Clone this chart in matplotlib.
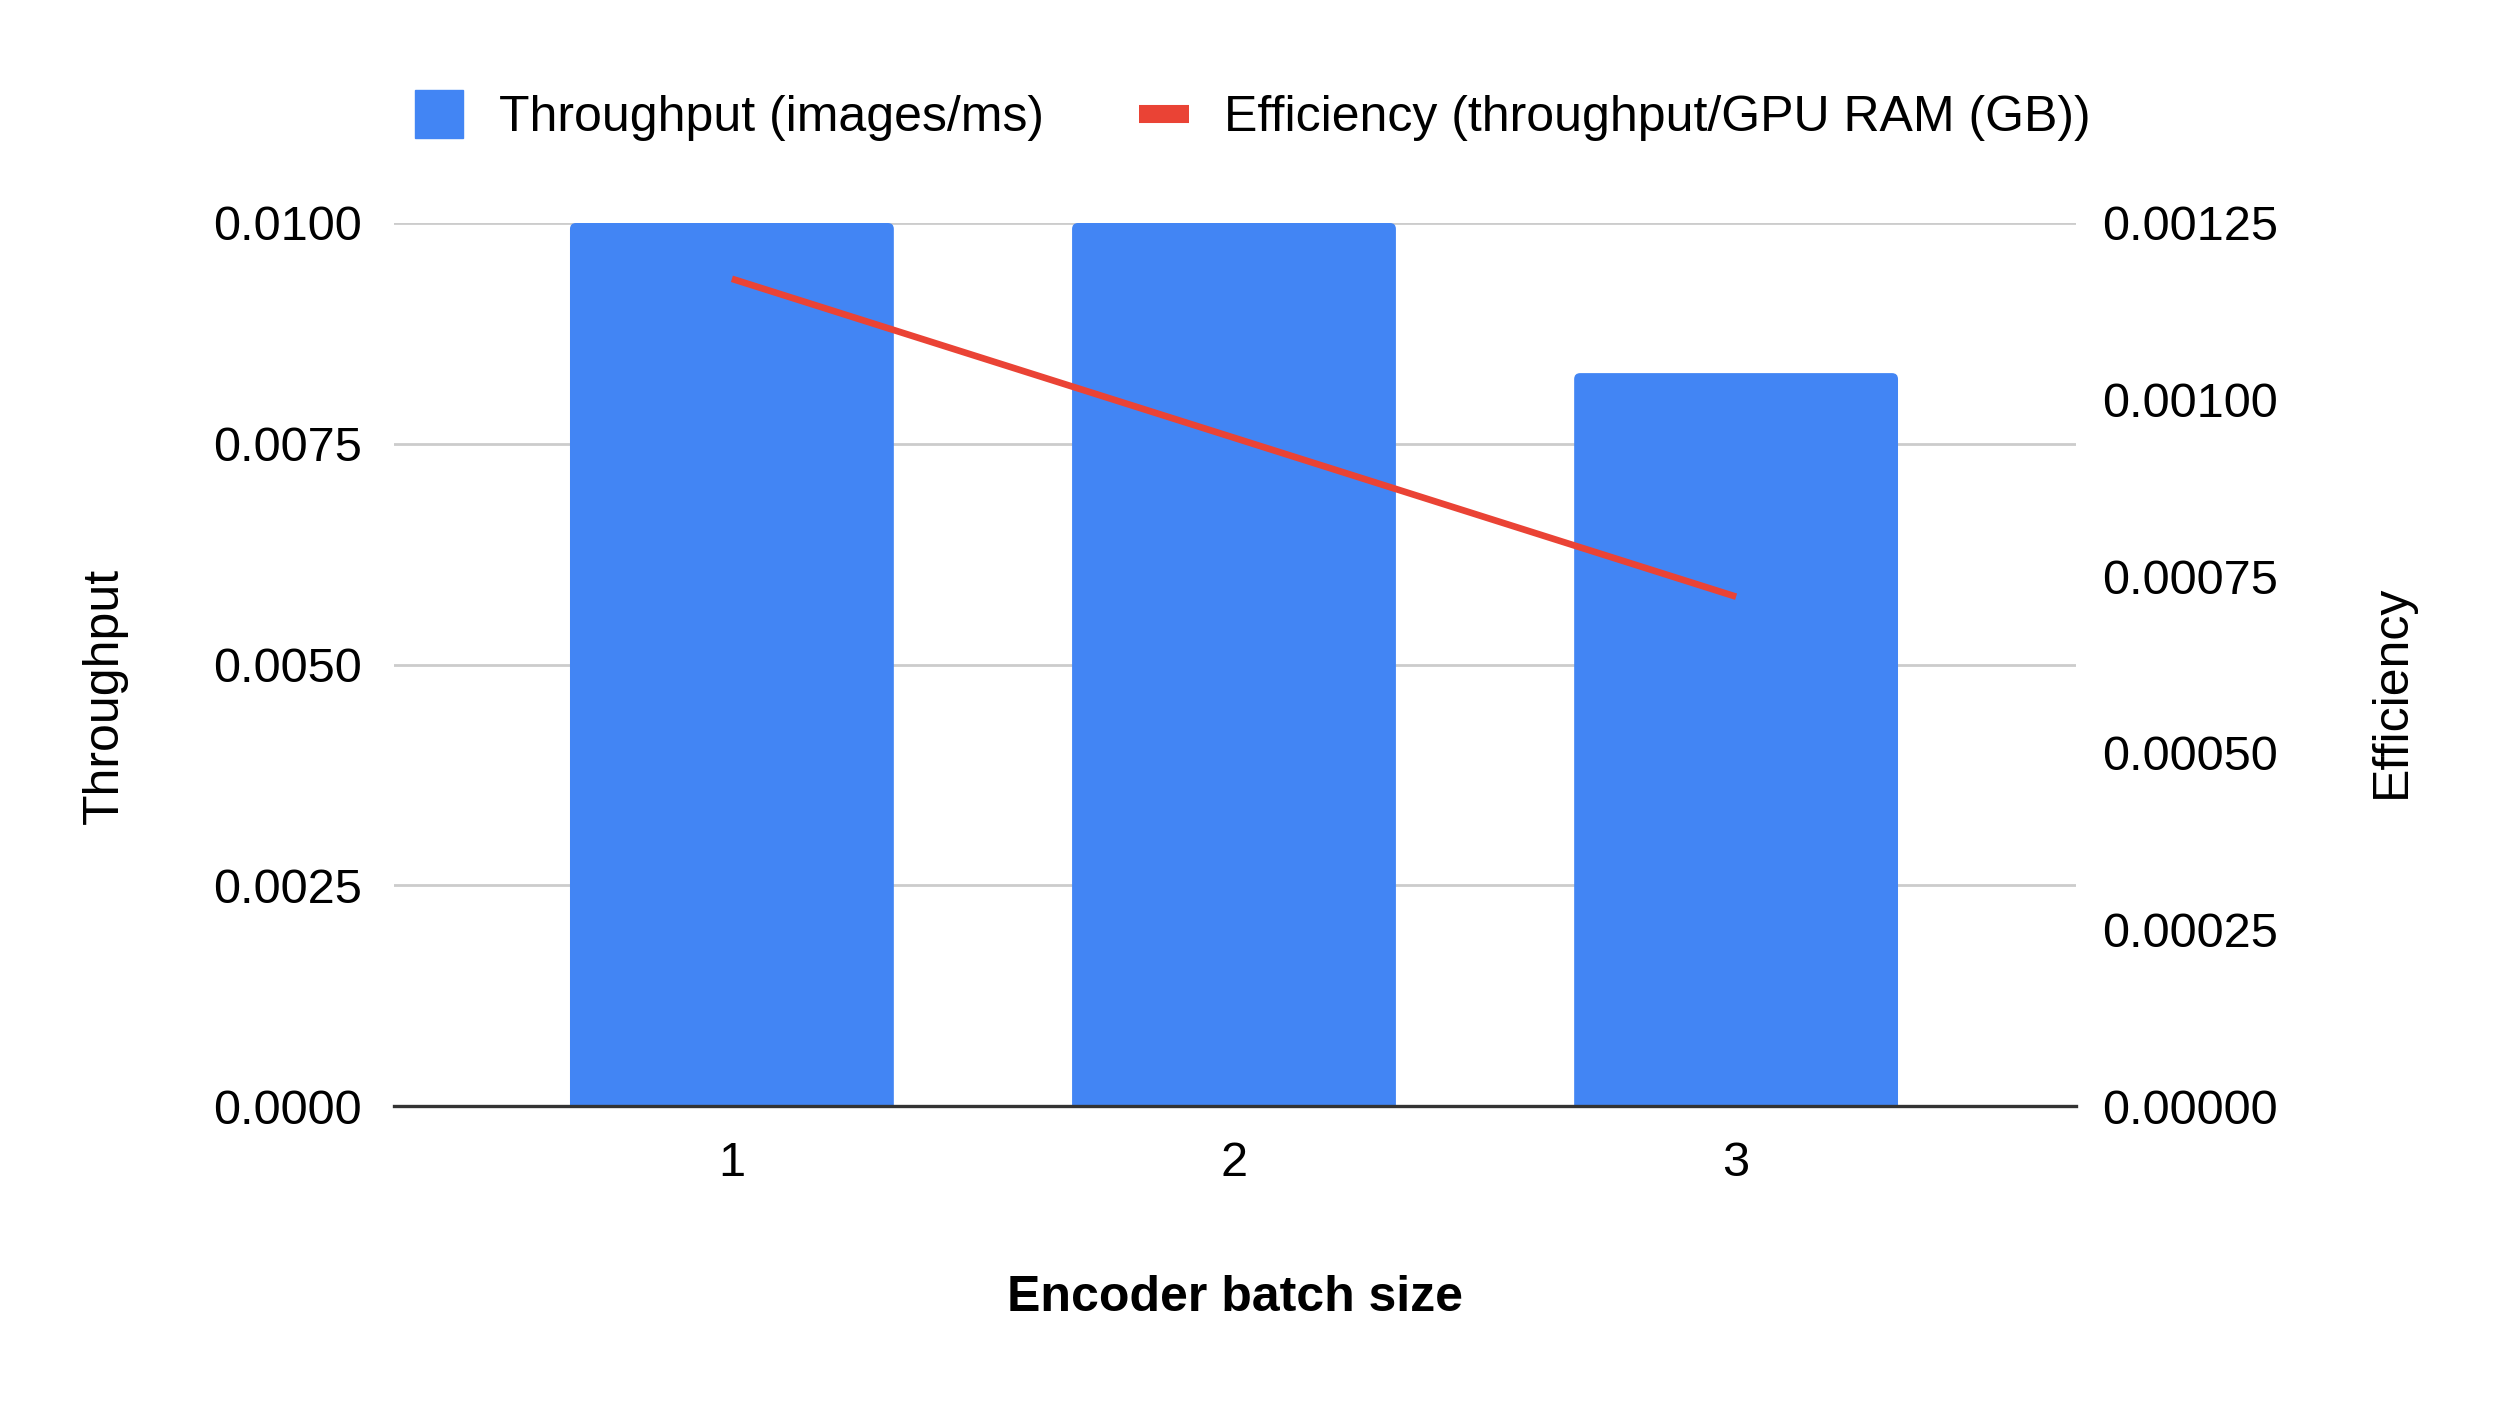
import numpy as np
import matplotlib.pyplot as plt
from matplotlib.lines import Line2D
from matplotlib.patches import FancyBboxPatch
from matplotlib.ticker import FormatStrFormatter

# data
batch_sizes = ['1', '2', '3']
throughput = [0.0100, 0.0100, 0.0083]        # images/ms
efficiency = [0.001171, 0.000946, 0.000721]  # throughput / GPU RAM (GB)

left_ticks = [0, 0.0025, 0.005, 0.0075, 0.01]
right_ticks = [0, 0.00025, 0.0005, 0.00075, 0.001, 0.00125]

blue = '#4285F4'
red = '#EA4335'

plt.rcParams['font.family'] = ['Liberation Sans', 'DejaVu Sans']

fig = plt.figure(figsize=(25, 14.01), dpi=100)
ax = fig.add_axes([394 / 2500, 295 / 1401, 1682 / 2500, 883 / 1401])

x = np.arange(1, len(batch_sizes) + 1)
bars = ax.bar(x, throughput, width=0.645, color=blue, zorder=2)

# swap plain bars for ones with slightly rounded tops
# (bottom corners pushed below the axis so they get clipped)
drop = 0.0002
for b in bars:
    b.set_visible(False)
    fb = FancyBboxPatch((b.get_x(), -drop), b.get_width(), b.get_height() + drop,
                        boxstyle='round,pad=0,rounding_size=0.012',
                        mutation_aspect=0.0057, facecolor=blue, edgecolor='none',
                        zorder=2)
    ax.add_patch(fb)

ax.set_xlim(0.327, 3.677)
ax.set_ylim(0, 0.01)
ax.set_xticks(x)
ax.set_xticklabels(batch_sizes)
ax.set_yticks(left_ticks)
ax.yaxis.set_major_formatter(FormatStrFormatter('%.4f'))
ax.grid(axis='y', color='#cccccc', linewidth=2.0)
ax.set_axisbelow(True)
for s in ['top', 'left', 'right']:
    ax.spines[s].set_visible(False)
ax.spines['bottom'].set_color('#333333')
ax.spines['bottom'].set_linewidth(2.4)
ax.spines['bottom'].set_zorder(3)
ax.tick_params(axis='y', length=0, labelsize=35, pad=23)
ax.tick_params(axis='x', length=0, labelsize=35, pad=25)

ax.set_xlabel('Encoder batch size', fontsize=36, fontweight='bold', va='center')
ax.xaxis.set_label_coords(0.5, -0.217)
ax.set_ylabel('Throughput', fontsize=36, va='center')
ax.yaxis.set_label_coords(-0.172, 0.464)

# efficiency on the right axis
ax2 = ax.twinx()
ax2.plot(x, efficiency, color=red, lw=4.8, solid_capstyle='butt')
ax2.set_ylim(0, 0.00125)
ax2.set_yticks(right_ticks)
ax2.yaxis.set_major_formatter(FormatStrFormatter('%.5f'))
for s in ['top', 'left', 'right', 'bottom']:
    ax2.spines[s].set_visible(False)
ax2.tick_params(axis='y', length=0, labelsize=35, pad=19)
ax2.set_ylabel('Efficiency', fontsize=36, rotation=90, va='center')
ax2.yaxis.set_label_coords(1.188, 0.47)

handles = [
    Line2D([], [], marker='s', markersize=34, color=blue, linestyle='none'),
    Line2D([], [], color=red, linewidth=13, solid_capstyle='butt'),
]
labels = ['Throughput (images/ms)', 'Efficiency (throughput/GPU RAM (GB))']
fig.legend(handles, labels, loc='center', bbox_to_anchor=(0.501, 0.9156), ncol=2,
           frameon=False, fontsize=36, handlelength=1.0, handletextpad=0.7,
           columnspacing=1.9, borderpad=0, borderaxespad=0)

fig.savefig('out.png', dpi=100)
